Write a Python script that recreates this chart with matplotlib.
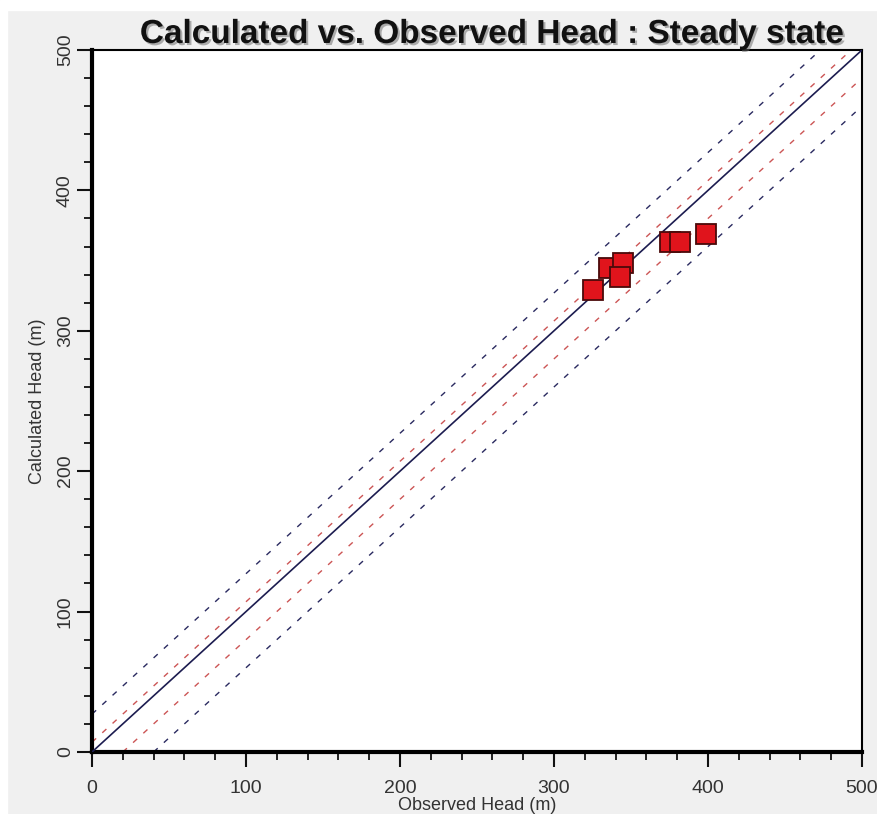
import matplotlib
matplotlib.use("Agg")
import matplotlib.pyplot as plt
import matplotlib.patheffects as pe
from matplotlib.patches import Rectangle
from matplotlib.ticker import MultipleLocator
import numpy as np

plt.rcParams['font.family'] = ['Liberation Sans', 'DejaVu Sans']

##Observed vs calculated heads
observed = [325, 336, 345, 343, 375, 382, 399]
calculated = [329, 345, 348, 338, 363, 363, 369]

##Offsets of the interval lines from the 1:1 line
interval_95 = [27, -40]
confidence_95 = [7, -20]

axis_max = 500

fig = plt.figure(figsize=(8.78, 8.14), dpi=100, facecolor='#f0f0f0')
##white strip on top and left like the screenshot
fig.patches.append(Rectangle((0, 0.988), 1, 0.012, transform=fig.transFigure,
                             color='white', zorder=0))
fig.patches.append(Rectangle((0, 0), 0.008, 1, transform=fig.transFigure,
                             color='white', zorder=0))
ax = fig.add_axes([0.1048, 0.0762, 0.877, 0.8624])
ax.set_facecolor('white')

line_x = np.array([0, axis_max])

##1:1 line
ax.plot(line_x, line_x, color='#1c1c50', lw=1.2, zorder=3)

##95% interval
for off in interval_95:
    ax.plot(line_x, line_x + off, color='#2a2a60', lw=1.0, ls=(0, (4, 6)), zorder=2)

##95% confidence interval
for off in confidence_95:
    ax.plot(line_x, line_x + off, color='#cc5555', lw=1.0, ls=(0, (4, 6)), zorder=2)

ax.plot(observed, calculated, ls='none', marker='s', markersize=15,
        markerfacecolor='#e0141c', markeredgecolor='#4a0a0a', markeredgewidth=1.3,
        zorder=4)

ax.set_xlim(0, axis_max)
ax.set_ylim(0, axis_max)

ax.xaxis.set_major_locator(MultipleLocator(100))
ax.yaxis.set_major_locator(MultipleLocator(100))
ax.xaxis.set_minor_locator(MultipleLocator(20))
ax.yaxis.set_minor_locator(MultipleLocator(20))

ax.tick_params(axis='both', which='major', direction='out', length=11, width=1.5,
               labelsize=14, colors='#111111', labelcolor='#333333')
ax.tick_params(axis='x', which='major', pad=9)
ax.tick_params(axis='y', which='major', pad=2)
ax.tick_params(axis='both', which='minor', direction='out', length=6, width=1.3,
               colors='#111111')
for lab in ax.get_yticklabels():
    lab.set_rotation(90)
    lab.set_va('center')

ax.spines['left'].set_linewidth(3)
ax.spines['bottom'].set_linewidth(3)
ax.spines['top'].set_linewidth(1.5)
ax.spines['right'].set_linewidth(1.5)

ax.set_xlabel("Observed Head (m)", fontsize=13, color='#333333', labelpad=0)
ax.set_ylabel("Calculated Head (m)", fontsize=13, color='#333333', labelpad=8)

ax.set_title("Calculated vs. Observed Head : Steady state", fontsize=24,
             fontweight='bold', color='#111111', pad=4, x=0.52,
             path_effects=[pe.withSimplePatchShadow(offset=(1.5, -1.5),
                                                    shadow_rgbFace='#666666',
                                                    alpha=0.5)])

plt.savefig("out.png", dpi=100, facecolor=fig.get_facecolor())
